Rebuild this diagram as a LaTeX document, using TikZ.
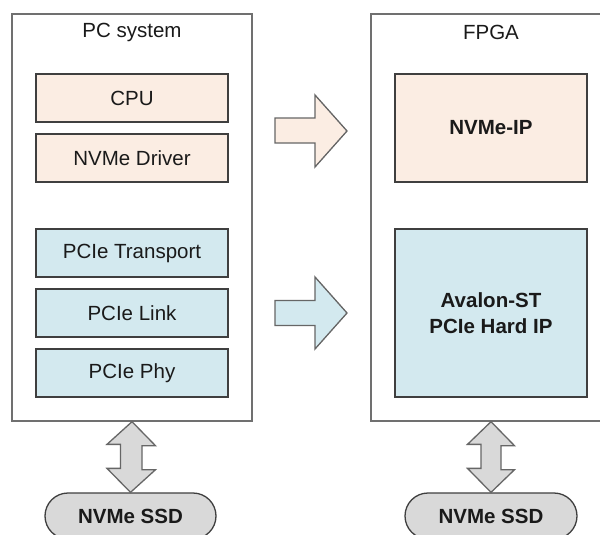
\documentclass[tikz,border=0pt]{standalone}
\usepackage{fontspec}
\setmainfont{Liberation Sans}
\definecolor{peach}{HTML}{FBEDE3}
\definecolor{lblue}{HTML}{D3E9EF}
\definecolor{lgray}{HTML}{D9D9D9}
\definecolor{edge}{HTML}{3F3F3F}
\definecolor{outer}{HTML}{707070}
\definecolor{arredge}{HTML}{666666}
\definecolor{txt}{HTML}{1A1A1A}
\begin{document}
\begin{tikzpicture}[x=1pt,y=-1pt,
  font=\fontsize{20.5}{25}\selectfont, text=txt,
  outerbox/.style={draw=outer, line width=1.4pt, minimum width=240pt, minimum height=407pt, inner sep=0pt},
  blk/.style={draw=edge, line width=1.3pt, minimum width=192pt, inner sep=0pt, align=center},
  pblk/.style={blk, fill=peach},
  bblk/.style={blk, fill=lblue},
  ssd/.style={draw=edge, line width=1.3pt, fill=lgray, rounded corners=23pt, minimum height=46pt, inner sep=0pt, font=\fontsize{20.5}{25}\selectfont\bfseries},
  barrow/.style={draw=arredge, line width=1.3pt, line join=miter},
]
\clip (0,0) rectangle (600,535);
\useasboundingbox (0,0) rectangle (600,535);
\fill[white] (0,0) rectangle (600,535);

\node[outerbox] (pc) at (132,217.5) {};
\node[outerbox] (fpga) at (491,217.5) {};
\node (pct) at (132,32) {PC system};
\node (fpgat) at (491,32) {FPGA};

\node[pblk, minimum height=48pt] (cpu) at (132,98) {CPU};
\node[pblk, minimum height=48pt] (drv) at (132,158) {NVMe Driver};
\node[bblk, minimum height=48pt] (tr) at (132,253) {PCIe Transport};
\node[bblk, minimum height=48pt] (lnk) at (132,313) {PCIe Link};
\node[bblk, minimum height=48pt] (phy) at (132,373) {PCIe Phy};

\node[pblk, minimum height=108pt, font=\fontsize{20.5}{25}\selectfont\bfseries] (nip) at (491,128) {NVMe-IP};
\node[bblk, minimum height=168pt, font=\fontsize{20.5}{26}\selectfont\bfseries] (hip) at (491,313) {Avalon-ST\\PCIe Hard IP};

\node[ssd, minimum width=171pt] (ssd1) at (130.5,516) {NVMe SSD};
\node[ssd, minimum width=172pt] (ssd2) at (491,516) {NVMe SSD};

% horizontal block arrows
\draw[barrow, fill=peach] (275,118) -- (315,118) -- (315,95) -- (347,131) -- (315,167) -- (315,143) -- (275,143) -- cycle;
\draw[barrow, fill=lblue] (275,300.5) -- (315,300.5) -- (315,277) -- (347,313) -- (315,349) -- (315,325.5) -- (275,325.5) -- cycle;

% vertical double block arrows
\foreach \a/\b in {pc/ssd1, fpga/ssd2}{
  \draw[barrow, fill=lgray] (\a.south) -- ++(23.5,24) -- ++(-13.5,0) -- ++(0,24) -- ++(13.5,0)
    -- (\b.north) -- ++(-23.5,-24) -- ++(13.5,0) -- ++(0,-24) -- ++(-13.5,0) -- cycle;
}
\end{tikzpicture}
\end{document}
